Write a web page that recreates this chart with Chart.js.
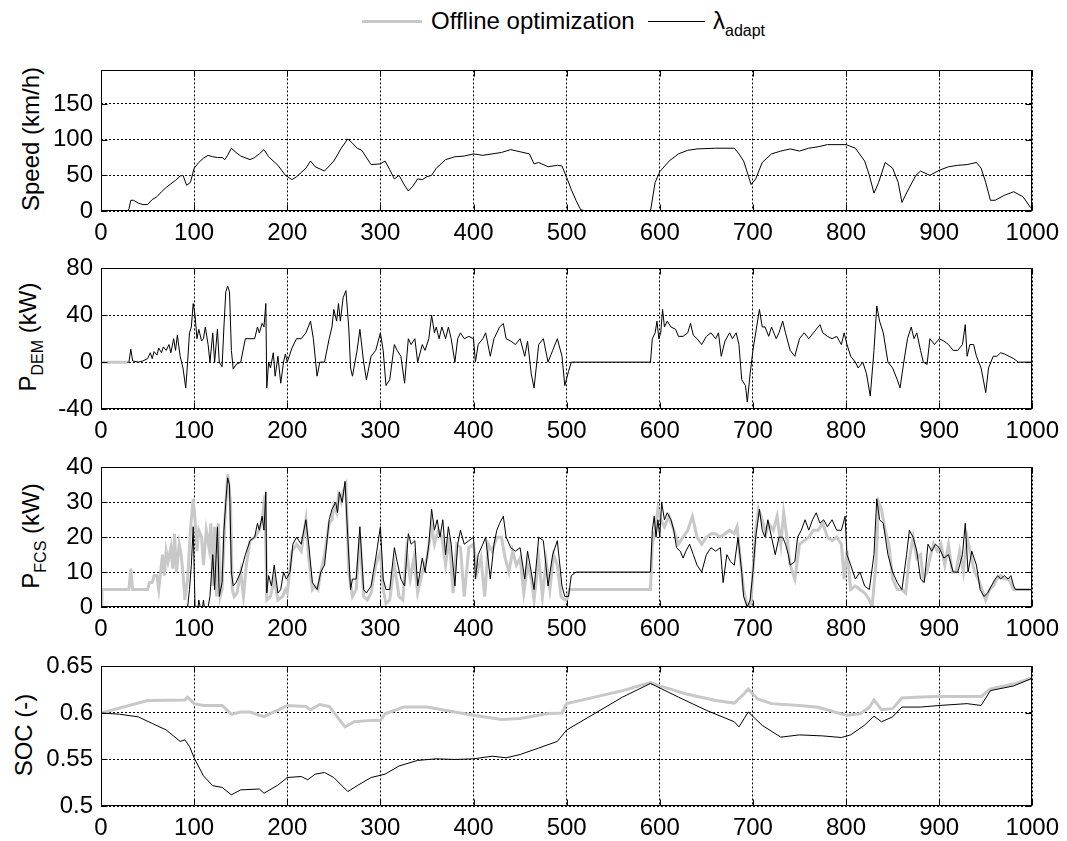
<!DOCTYPE html>
<html>
<head>
<meta charset="utf-8">
<title>Speed, power and SOC traces</title>
<script src="https://cdn.jsdelivr.net/npm/chart.js@4.4.1/dist/chart.umd.min.js"></script>
<style>
  html, body { margin: 0; padding: 0; background: #fff; }
  body { width: 1067px; height: 841px; position: relative; overflow: hidden;
         font-family: 'Liberation Sans', Arial, Helvetica, sans-serif; color: #000; }
  canvas { position: absolute; left: 0; }
  .sw { position: absolute; }
  .lbl { position: absolute; top: 9px; font-size: 24px; line-height: 24px; white-space: nowrap; }
  .ytitle { position: absolute; font-size: 24px; line-height: 24px; white-space: nowrap;
            transform: translate(-50%, -50%) rotate(-90deg); }
  sub { font-size: 16px; line-height: 0; vertical-align: -7px; }
</style>
</head>
<body>

<!-- legend (HTML so the subscript stays real text) -->
<span class="sw" style="left:362px; top:20px; width:60px; height:3px; background:rgb(200,200,200)"></span>
<span class="lbl" style="left:431px">Offline optimization</span>
<span class="sw" style="left:648px; top:21px; width:57px; height:1px; background:#000"></span>
<span class="lbl" style="left:713px">&lambda;<sub>adapt</sub></span>

<div class="ytitle" style="left:31px; top:139px">Speed (km/h)</div>
<div class="ytitle" style="left:28px; top:337px">P<sub>DEM</sub> (kW)</div>
<div class="ytitle" style="left:31px; top:536px">P<sub>FCS</sub> (kW)</div>
<div class="ytitle" style="left:24px; top:735px">SOC (-)</div>

<canvas id="c-speed" width="1067" height="198" style="top:48px"></canvas>
<canvas id="c-pdem"  width="1067" height="198" style="top:246px"></canvas>
<canvas id="c-pfcs"  width="1067" height="197" style="top:445px"></canvas>
<canvas id="c-soc"   width="1067" height="197" style="top:644px"></canvas>

<script>
// ---- data: [time (s), value] ----
const X_TICKS = [0, 100, 200, 300, 400, 500, 600, 700, 800, 900, 1000];

const SPEED_TICKS = [0, 50, 100, 150];
const PDEM_TICKS  = [-40, 0, 40, 80];
const PFCS_TICKS  = [0, 10, 20, 30, 40];
const SOC_TICKS   = [0.5, 0.55, 0.6, 0.65];

const SPEED = [[0,0],[28,0],[30,3],[32,15],[35,15],[40,11],[45,9],[50,9],[55,16],[60,20],[65,27],[70,33],[75,38],[80,43],[85,49],[88,50],
  [92,36],[96,40],[100,60],[105,68],[110,74],[115,78],[120,76],[125,75],[130,75],[133,72],[136,78],[140,88],[145,82],[150,77],[160,72],
  [165,75],[170,80],[175,86],[180,76],[190,64],[198,50],[205,44],[210,48],[220,60],[225,70],[230,62],[240,56],[250,70],[258,88],[265,101],
  [270,95],[275,88],[280,85],[290,65],[300,66],[305,70],[310,58],[315,45],[320,50],[325,38],[330,28],[335,35],[340,45],[345,44],[350,48],
  [355,50],[360,60],[370,72],[380,76],[390,77],[400,80],[410,78],[420,80],[430,82],[440,86],[450,83],[460,80],[465,66],[470,68],[480,62],
  [490,64],[495,63],[500,47],[505,30],[510,15],[515,2],[520,0],[590,0],[595,40],[600,55],[610,70],[620,80],[630,85],[640,87],[660,88],
  [680,88],[685,80],[690,70],[695,50],[698,37],[703,45],[710,68],[720,80],[730,84],[740,87],[750,84],[760,88],[770,90],[780,93],[800,93],
  [810,88],[820,70],[825,50],[830,25],[835,40],[842,68],[850,60],[856,40],[860,12],[866,28],[875,50],[880,56],[890,50],[900,57],[910,62],
  [920,64],[930,65],[940,68],[945,60],[950,40],[955,15],[960,15],[970,22],[980,27],[990,20],[998,5],[1000,2]];

const PDEM_OFFLINE = [[0,0],[28,0]];
const PDEM_ADAPT = [[28,0],[30,0],[32,11],[34,1],[40,0],[45,1],[50,3],[53,8],[55,3],[57,9],[60,6],[62,12],[65,8],[67,13],[70,10],[73,15],
  [75,8],[78,20],[80,10],[82,23],[85,5],[88,-5],[91,-22],[93,0],[95,25],[97,30],[99,50],[101,40],[103,20],[105,28],[108,18],[110,20],
  [112,30],[115,15],[117,0],[120,25],[122,0],[125,28],[127,0],[130,-4],[132,30],[134,60],[136,65],[138,60],[140,10],[142,-6],[145,-2],
  [150,0],[155,20],[160,20],[165,20],[168,30],[170,25],[173,33],[175,30],[177,50],[178,-22],[180,0],[182,-5],[185,8],[187,-12],[190,5],
  [193,-18],[196,0],[198,7],[200,0],[205,12],[210,20],[215,20],[220,25],[225,35],[228,20],[232,-12],[235,0],[240,0],[245,20],[248,30],
  [250,45],[253,35],[255,50],[257,35],[260,55],[263,61],[266,30],[268,-5],[270,-12],[275,10],[278,28],[282,0],[285,-15],[290,5],[295,10],
  [300,25],[303,10],[306,-20],[310,-15],[315,15],[318,10],[322,5],[326,-18],[330,20],[333,15],[337,20],[340,0],[345,15],[348,10],[352,20],
  [355,40],[358,25],[360,30],[363,20],[366,30],[370,20],[373,30],[376,20],[380,0],[383,20],[386,25],[390,20],[395,22],[400,20],[402,0],
  [405,15],[410,20],[413,25],[418,5],[422,20],[425,25],[428,30],[432,33],[435,20],[440,18],[445,15],[450,20],[455,5],[458,18],[462,-10],
  [465,-22],[470,15],[475,20],[480,0],[485,10],[490,20],[495,5],[498,-20],[502,-8],[505,0],[510,0],[590,0],[592,20],[595,25],[597,35],
  [599,20],[601,25],[603,45],[605,30],[608,35],[612,30],[617,28],[620,22],[625,22],[630,25],[633,33],[636,23],[640,20],[645,15],[650,22],
  [655,25],[660,20],[663,25],[666,5],[670,18],[675,25],[678,20],[682,25],[685,15],[688,-15],[692,-20],[694,-34],[697,-10],[700,10],
  [703,25],[707,45],[710,30],[713,30],[717,22],[720,30],[725,20],[728,25],[732,35],[735,25],[740,10],[745,5],[750,20],[755,25],[760,20],
  [765,25],[772,32],[775,25],[780,22],[785,20],[790,22],[795,15],[798,25],[801,15],[805,5],[810,0],[813,-5],[818,0],[822,-10],[826,-29],
  [830,10],[833,48],[836,35],[840,25],[845,0],[850,-5],[855,-15],[858,-22],[862,0],[866,20],[870,30],[873,20],[876,25],[880,10],[883,0],
  [887,-2],[890,20],[895,15],[900,20],[905,18],[910,15],[915,10],[920,10],[925,15],[928,32],[930,5],[933,15],[937,15],[940,5],[945,-5],
  [950,-26],[953,-5],[958,5],[962,5],[966,8],[970,7],[975,5],[980,3],[985,0],[1000,0]];

const PFCS_OFFLINE = [[0,0],[1,5],[30,5],[32,11],[34,5],[50,5],[52,7],[55,7],[57,9],[60,9],[62,5],[64,10],[66,15],[68,9],[70,16],[72,13],
  [75,17],[77,11],[79,21],[81,10],[84,18],[86,15],[88,10],[90,2],[93,8],[96,22],[99,31],[101,25],[103,16],[105,22],[108,20],[110,12],
  [113,22],[116,17],[118,24],[120,6],[122,23],[124,3],[126,24],[128,3],[130,5],[133,25],[136,38],[139,30],[141,5],[143,3],[146,4],[150,10],
  [153,3],[156,12],[160,19],[165,20],[170,22],[173,25],[176,32],[178,2],[182,3],[186,8],[190,2],[195,3],[198,5],[200,4],[205,16],[210,18],
  [215,16],[220,25],[223,14],[227,5],[230,6],[233,5],[236,10],[240,15],[245,24],[248,25],[250,29],[253,27],[255,32],[258,30],[260,33],
  [263,35],[266,10],[270,3],[274,5],[278,20],[282,3],[286,2],[290,4],[295,12],[300,16],[303,5],[306,1],[310,2],[315,12],[320,3],[324,2],
  [328,16],[332,8],[336,14],[340,4],[345,10],[350,14],[355,23],[358,18],[362,22],[366,20],[370,12],[374,20],[378,4],[382,18],[386,17],
  [390,3],[395,17],[400,18],[404,10],[408,14],[412,3],[416,18],[420,16],[425,20],[430,20],[434,14],[438,10],[442,16],[446,12],[450,14],
  [454,4],[458,12],[462,8],[465,2],[470,14],[474,3],[478,13],[482,5],[486,15],[490,12],[494,3],[498,2],[500,2],[503,5],[590,5],[592,18],
  [595,22],[598,28],[601,25],[605,23],[610,26],[615,22],[620,18],[625,20],[630,22],[635,26],[640,20],[645,18],[650,20],[655,21],[660,21],
  [665,20],[670,21],[675,22],[680,21],[683,23],[686,15],[690,5],[694,0],[698,1],[700,10],[703,22],[706,28],[710,25],[714,21],[717,24],
  [722,22],[726,26],[730,18],[733,27],[737,19],[740,12],[745,8],[750,18],[755,19],[760,20],[765,22],[770,22],[775,24],[780,20],[785,19],
  [790,20],[795,18],[798,8],[801,16],[805,5],[810,6],[815,5],[820,4],[825,2],[828,0],[832,12],[835,30],[838,28],[842,22],[846,18],[850,8],
  [855,5],[860,5],[864,4],[868,14],[872,20],[876,14],[880,15],[883,8],[887,10],[890,14],[894,18],[898,16],[902,18],[906,12],[910,18],
  [914,10],[918,10],[922,16],[926,10],[930,20],[934,15],[938,10],[942,8],[946,5],[950,2],[954,5],[958,6],[962,8],[966,9],[970,8],[975,8],
  [978,6],[980,5],[1000,5]];

const PFCS_ADAPT = [[0,0],[93,0],[95,5],[97,12],[99,23],[101,0],[103,-3],[105,2],[108,-2],[110,2],[112,-2],[115,0],[117,3],[120,15],
  [122,5],[125,23],[127,3],[130,7],[132,22],[134,30],[136,37],[138,35],[140,10],[142,6],[145,7],[150,10],[155,15],[160,19],[165,20],
  [168,24],[170,22],[173,26],[175,22],[177,33],[178,4],[180,9],[183,6],[186,12],[190,4],[193,5],[196,10],[199,8],[203,10],[206,18],
  [210,20],[215,18],[220,25],[223,18],[227,7],[232,5],[236,10],[240,12],[245,25],[248,28],[252,30],[254,27],[256,33],[259,30],[262,36],
  [265,20],[268,5],[270,8],[274,8],[278,23],[282,5],[285,4],[290,6],[295,14],[300,23],[303,8],[306,5],[310,5],[315,17],[318,13],[322,8],
  [326,6],[330,21],[333,18],[337,19],[340,6],[345,14],[348,10],[352,18],[355,28],[358,22],[361,25],[364,20],[367,25],[370,15],[373,23],
  [376,18],[380,6],[383,18],[386,22],[390,18],[395,19],[400,20],[402,8],[405,15],[410,18],[413,20],[418,8],[422,18],[425,22],[428,24],
  [432,26],[435,20],[440,17],[445,16],[450,17],[455,8],[458,16],[462,10],[465,5],[470,20],[475,19],[480,6],[485,15],[490,19],[495,6],
  [498,3],[502,3],[505,9],[510,10],[590,10],[592,22],[594,26],[596,20],[598,25],[600,20],[602,30],[605,25],[608,27],[612,25],[615,22],
  [618,17],[622,16],[625,14],[628,16],[632,18],[636,15],[640,12],[645,10],[650,15],[655,17],[660,16],[665,17],[668,7],[672,15],[676,13],
  [680,12],[684,20],[688,10],[690,3],[694,0],[697,2],[700,10],[703,20],[707,28],[710,22],[713,20],[716,25],[720,20],[724,15],[728,20],
  [732,20],[735,18],[738,15],[740,12],[745,13],[748,20],[752,22],[756,25],[760,22],[764,25],[768,27],[772,24],[776,25],[780,23],[785,25],
  [790,22],[795,22],[799,26],[801,15],[805,12],[810,8],[815,10],[820,6],[825,5],[830,15],[833,31],[836,25],[840,24],[845,15],[850,10],
  [855,7],[860,5],[865,15],[868,22],[872,20],[876,16],[880,8],[884,7],[888,18],[892,16],[896,18],[900,17],[905,14],[910,15],[915,10],
  [920,10],[925,15],[928,24],[931,10],[935,16],[940,12],[944,5],[948,3],[952,4],[956,6],[960,8],[963,9],[966,8],[970,9],[974,8],[977,9],
  [980,6],[982,5],[1000,5]];

const SOC_OFFLINE = [[0,0.6],[50,0.6134],[90,0.614],[93,0.617],[100,0.61],[110,0.608],[130,0.608],[140,0.5986],[150,0.601],[160,0.601],
  [175,0.596],[190,0.603],[200,0.608],[220,0.607],[225,0.6035],[235,0.609],[245,0.607],[262,0.585],[272,0.5905],[290,0.592],[300,0.592],
  [305,0.599],[325,0.6063],[350,0.6063],[380,0.601],[400,0.5975],[430,0.593],[450,0.594],[480,0.5993],[495,0.6],[500,0.61],[530,0.617],
  [560,0.624],[590,0.6327],[600,0.629],[630,0.62],[660,0.6134],[680,0.6106],[690,0.62],[695,0.6257],[705,0.615],[720,0.61],[750,0.608],
  [770,0.606],[800,0.5975],[815,0.599],[825,0.606],[830,0.614],[838,0.6035],[850,0.6046],[860,0.616],[880,0.617],[900,0.6176],
  [945,0.6176],[955,0.6257],[980,0.631],[1000,0.638]];

const SOC_ADAPT = [[0,0.6],[20,0.5986],[40,0.5958],[55,0.5887],[70,0.5817],[85,0.5694],[90,0.5711],[95,0.564],[100,0.5518],[110,0.5324],
  [120,0.5218],[130,0.52],[140,0.512],[150,0.5173],[170,0.5183],[175,0.5137],[190,0.5225],[200,0.5306],[215,0.5317],[222,0.5282],
  [230,0.5342],[240,0.536],[250,0.5306],[265,0.5155],[275,0.5218],[290,0.5306],[305,0.5342],[320,0.543],[340,0.549],[360,0.5507],
  [380,0.55],[400,0.5507],[420,0.5535],[435,0.5518],[450,0.5553],[470,0.5623],[490,0.5694],[500,0.5817],[530,0.5993],[560,0.617],
  [590,0.6317],[620,0.617],[650,0.6028],[680,0.5905],[685,0.585],[695,0.601],[710,0.5866],[730,0.574],[750,0.5764],[775,0.5753],
  [795,0.5736],[805,0.5764],[820,0.587],[830,0.5965],[838,0.5905],[850,0.5958],[860,0.6063],[880,0.6063],[900,0.608],[930,0.61],
  [945,0.608],[955,0.624],[980,0.629],[1000,0.6373]];

// ---- styling ----
const FONT = "'Liberation Sans', Arial, Helvetica, sans-serif";
const GRAY = 'rgb(200,200,200)';
const BLACK = '#000';

// MATLAB-ish box: solid frame plus short inward ticks on all four sides
const boxPlugin = {
  id: 'box',
  afterDraw(chart) {
    const { ctx, chartArea: a, scales: { x, y } } = chart;
    const L = Math.round(a.left) + 0.5, R = Math.round(a.right) - 0.5;
    const T = Math.round(a.top) + 0.5, B = Math.round(a.bottom) - 0.5;
    ctx.save();
    ctx.strokeStyle = BLACK;
    ctx.lineWidth = 1;
    ctx.setLineDash([]);
    ctx.strokeRect(L, T, R - L, B - T);
    ctx.beginPath();
    x.ticks.forEach((t) => {
      const px = Math.round(x.getPixelForValue(t.value)) + 0.5;
      ctx.moveTo(px, B); ctx.lineTo(px, B - 6);
      ctx.moveTo(px, T); ctx.lineTo(px, T + 6);
    });
    y.ticks.forEach((t) => {
      const py = Math.round(y.getPixelForValue(t.value)) + 0.5;
      ctx.moveTo(L, py); ctx.lineTo(L + 6, py);
      ctx.moveTo(R, py); ctx.lineTo(R - 6, py);
    });
    ctx.stroke();
    ctx.restore();
  },
};

function line(points, color, width, order) {
  return {
    data: points.map(([x, y]) => ({ x, y })),
    borderColor: color,
    borderWidth: width,
    pointRadius: 0,
    tension: 0,
    fill: false,
    order,
  };
}

function panel(id, datasets, yMin, yMax, yTicks) {
  new Chart(document.getElementById(id), {
    type: 'line',
    data: { datasets },
    options: {
      responsive: false,
      animation: false,
      events: [],
      layout: { padding: { top: 20, right: 31, left: 0, bottom: 0 } },
      plugins: { legend: { display: false }, tooltip: { enabled: false } },
      scales: {
        x: {
          type: 'linear',
          min: 0,
          max: 1000,
          afterBuildTicks: (s) => { s.ticks = X_TICKS.map((v) => ({ value: v })); },
          afterFit: (s) => { s.height = 35; },
          grid: { color: BLACK, lineWidth: 1, drawTicks: false },
          border: { display: false, dash: [2, 2] },
          ticks: {
            color: BLACK,
            font: { family: FONT, size: 24 },
            padding: 8,
            maxRotation: 0,
            autoSkip: false,
            callback: (v) => String(v),
          },
        },
        y: {
          type: 'linear',
          min: yMin,
          max: yMax,
          afterBuildTicks: (s) => { s.ticks = yTicks.map((v) => ({ value: v })); },
          afterFit: (s) => { s.width = 101; },
          grid: { color: BLACK, lineWidth: 1, drawTicks: false },
          border: { display: false, dash: [2, 2] },
          ticks: {
            color: BLACK,
            font: { family: FONT, size: 24 },
            padding: 8,
            autoSkip: false,
            callback: (v) => String(v),
          },
        },
      },
    },
    plugins: [boxPlugin],
  });
}

panel('c-speed', [line(SPEED, BLACK, 1, 1)], 0, 197, SPEED_TICKS);
panel('c-pdem', [line(PDEM_ADAPT, BLACK, 1, 1), line(PDEM_OFFLINE, GRAY, 3, 2)], -40, 80, PDEM_TICKS);
panel('c-pfcs', [line(PFCS_ADAPT, BLACK, 1, 1), line(PFCS_OFFLINE, GRAY, 3, 2)], 0, 40, PFCS_TICKS);
panel('c-soc', [line(SOC_ADAPT, BLACK, 1, 1), line(SOC_OFFLINE, GRAY, 3, 2)], 0.5, 0.65, SOC_TICKS);
</script>
</body>
</html>
